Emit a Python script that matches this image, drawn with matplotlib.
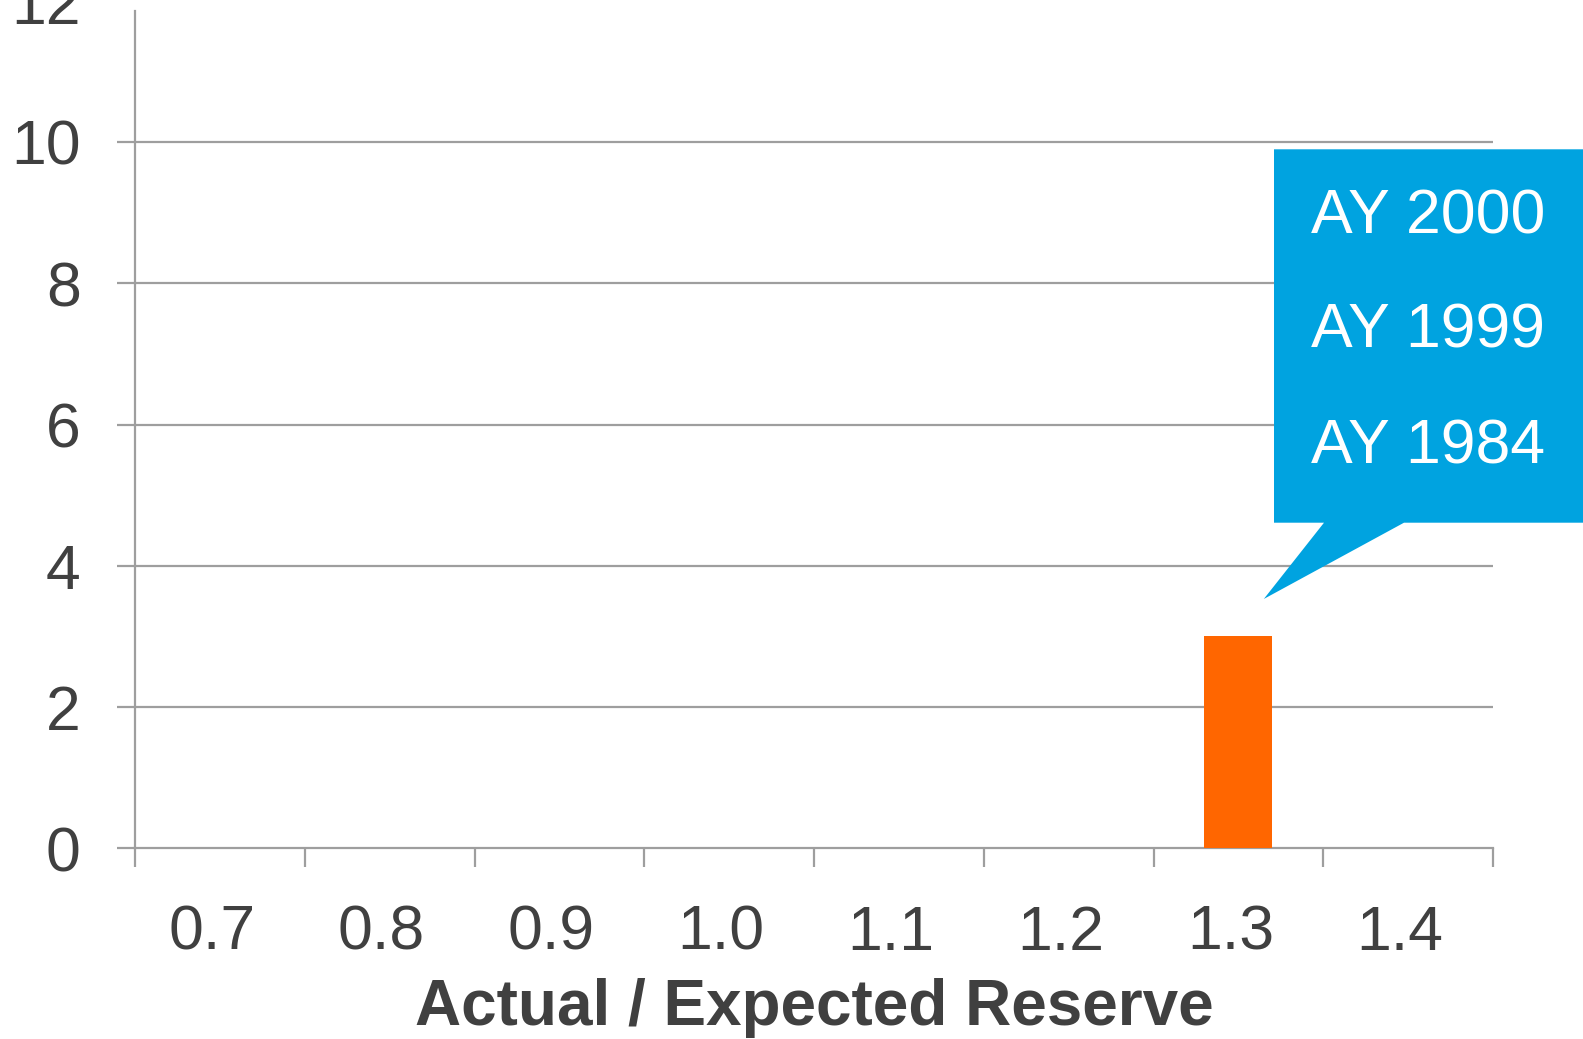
import matplotlib
matplotlib.use("Agg")
import matplotlib.pyplot as plt
import matplotlib.transforms as mtransforms
from matplotlib.patches import Polygon
from matplotlib import font_manager

# Data
categories = ["0.7", "0.8", "0.9", "1.0", "1.1", "1.2", "1.3", "1.4"]
counts = [0, 0, 0, 0, 0, 0, 3, 0]
y_ticks = [0, 2, 4, 6, 8, 10, 12]
callout_lines = ["AY 2000", "AY 1999", "AY 1984"]

W, H = 1583, 1039
text_grey = "#404040"
grid_grey = "#9E9E9E"
blue = "#00A3E0"
orange = "#FF6600"

names = {f.name for f in font_manager.fontManager.ttflist}
plt.rcParams["font.family"] = ["Liberation Sans", "DejaVu Sans"]
narrow = "Liberation Sans Narrow" if "Liberation Sans Narrow" in names else "Liberation Sans"

fig = plt.figure(figsize=(W / 100, H / 100), dpi=100)
left, right, bottom, top = 135, 1493, 848.3, 0.7
ax = fig.add_axes([left / W, 1 - bottom / H, (right - left) / W, (bottom - top) / H])

x = list(range(len(categories)))
ax.bar(x, counts, width=0.4, color=orange, zorder=3)

ax.set_xlim(-0.5, len(categories) - 0.5)
ax.set_ylim(0, 12)

# y axis
ax.set_yticks(y_ticks)
ax.set_yticklabels([str(v) for v in y_ticks])
ax.yaxis.grid(True, color=grid_grey, linewidth=1.6)
ax.get_ygridlines()[0].set_visible(False)
ax.get_ygridlines()[-1].set_visible(False)
ax.tick_params(axis="y", direction="out", length=13, width=1.6, color=grid_grey,
               labelsize=45, labelcolor=text_grey, pad=26)
ax.yaxis.get_major_ticks()[-1].tick1line.set_visible(False)

# x axis: labels centred, tick marks on category boundaries
ax.set_xticks(x)
ax.set_xticklabels(categories)
ax.set_xticks([i - 0.5 for i in range(len(categories) + 1)], minor=True)
ax.tick_params(axis="x", which="major", length=0, labelsize=45, labelcolor=text_grey, pad=40)
ax.tick_params(axis="x", which="minor", direction="out", length=14, width=1.6, color=grid_grey)

# labels sit a little left of the category centre in the original
offset = mtransforms.ScaledTranslation(-0.08, 0, fig.dpi_scale_trans)
for label in ax.xaxis.get_majorticklabels():
    label.set_transform(label.get_transform() + offset)

for s in ["top", "right"]:
    ax.spines[s].set_visible(False)
ax.spines["left"].set_color(grid_grey)
ax.spines["left"].set_linewidth(1.6)
ax.spines["left"].set_bounds(0, 11.85)
ax.spines["bottom"].set_color(grid_grey)
ax.spines["bottom"].set_linewidth(1.6)

ax.set_xlabel("Actual / Expected Reserve", fontsize=46, fontweight="bold",
              color=text_grey, family=[narrow, "DejaVu Sans"], labelpad=11)

# Callout pointing at the 1.3 bar
fig.canvas.draw()
bar_idx = categories.index("1.3")
tip_px = ax.transData.transform((bar_idx + 0.15, counts[bar_idx] + 0.53))
box_l, box_t, box_b = 1274, 149.3, 522.7
pts_px = [
    (box_l, H - box_t), (W + 5, H - box_t), (W + 5, H - box_b),
    (1404, H - box_b), (tip_px[0], tip_px[1]), (1324, H - box_b), (box_l, H - box_b),
]
pts = [(px / W, py / H) for px, py in pts_px]
fig.patches.append(Polygon(pts, closed=True, transform=fig.transFigure,
                           facecolor=blue, edgecolor="none", zorder=5))

for i, line in enumerate(callout_lines):
    fig.text(1311 / W, 1 - (233 + 115 * i) / H, line, color="white", fontsize=45,
             ha="left", va="baseline", zorder=6)

fig.savefig("out.png", dpi=100)
